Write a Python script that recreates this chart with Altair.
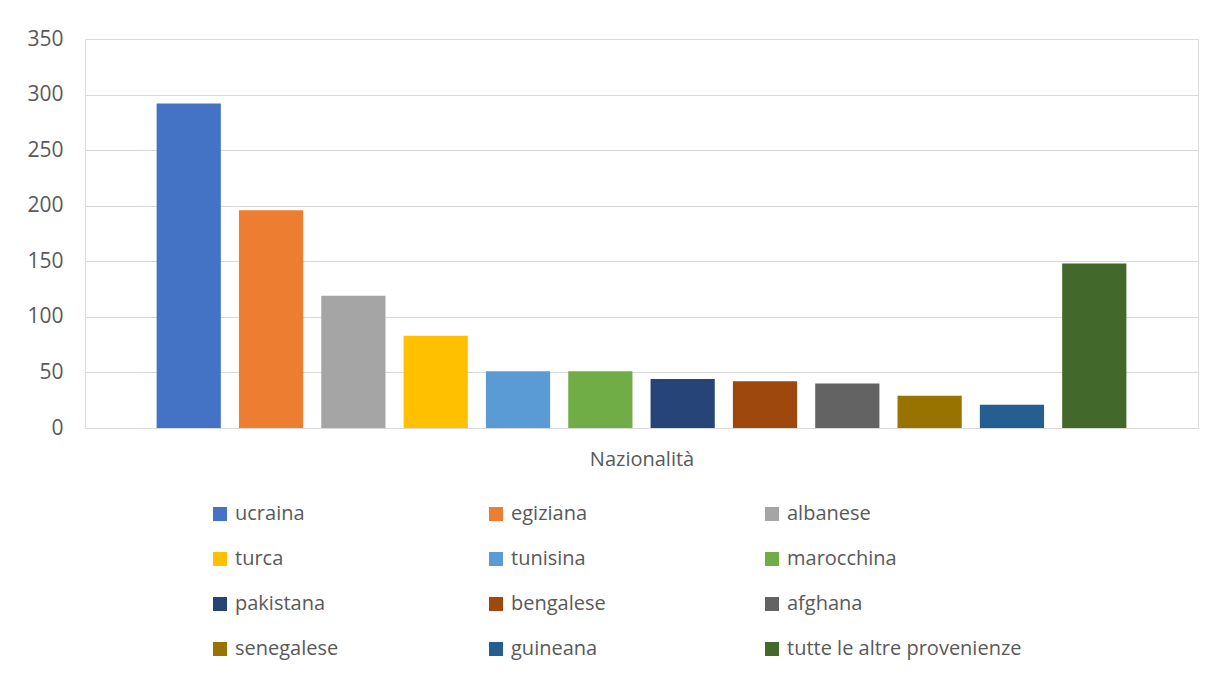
import altair as alt
import pandas as pd

categories = ["ucraina", "egiziana", "albanese", "turca", "tunisina", "marocchina",
              "pakistana", "bengalese", "afghana", "senegalese", "guineana",
              "tutte le altre provenienze"]
values = [292, 196, 119, 83, 51, 51, 44, 42, 40, 29, 21, 148]
colors = ["#4472C4", "#ED7D31", "#A5A5A5", "#FFC000", "#5B9BD5", "#70AD47",
          "#264478", "#9E480E", "#636363", "#997300", "#255E91", "#43682B"]
y_ticks = [0, 50, 100, 150, 200, 250, 300, 350]

df = pd.DataFrame({"Nazionalità": categories, "valore": values})

FONT = "Open Sans"
TXT = "#595959"

chart = alt.Chart(df).mark_bar().encode(
    x=alt.X("Nazionalità:N", sort=categories,
            scale=alt.Scale(paddingInner=0.22, paddingOuter=0.87),
            axis=alt.Axis(labels=False, ticks=False, domain=True, domainColor="#d9d9d9",
                          title="Nazionalità", titleFontWeight="normal", titleFontSize=20,
                          titleColor=TXT, titleFont=FONT, titlePadding=21)),
    y=alt.Y("valore:Q", scale=alt.Scale(domain=[0, 350], nice=False),
            axis=alt.Axis(values=y_ticks, title=None, domain=False, ticks=False,
                          grid=True, gridColor="#d9d9d9", labelFontSize=21,
                          labelColor=TXT, labelFont=FONT, labelPadding=22)),
    color=alt.Color("Nazionalità:N", sort=categories,
                    scale=alt.Scale(domain=categories, range=colors),
                    legend=alt.Legend(title=None, orient="none", legendX=125, legendY=465,
                                      direction="horizontal", columns=3, gridAlign="all",
                                      columnPadding=16, rowPadding=25,
                                      symbolType="square", symbolSize=196,
                                      symbolStrokeWidth=0, labelFontSize=20,
                                      labelColor=TXT, labelFont=FONT, labelOffset=5,
                                      labelLimit=400)),
).properties(
    width=1113, height=389,
    autosize=alt.AutoSizeParams(type="none"),
    padding={"left": 77, "top": 31, "right": 8, "bottom": 237},
).configure_view(stroke=None).configure(background="white")

chart.save("out.html", embed_options={"renderer": "svg", "actions": False})
